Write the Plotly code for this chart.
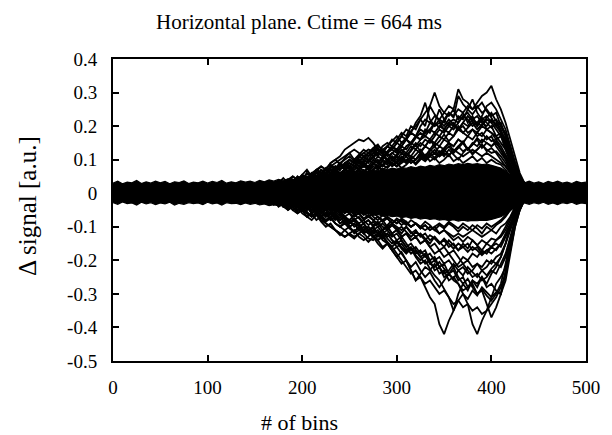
import plotly.graph_objects as go

# ---------------- data ----------------
# dense noise core envelope, every 5 bins from 0 to 500
core_bins = list(range(0, 501, 5))
core_upper = [
    0.030, 0.036, 0.028, 0.033, 0.031, 0.038, 0.029, 0.034, 0.030, 0.036,
    0.031, 0.035, 0.028, 0.034, 0.032, 0.037, 0.029, 0.033, 0.031, 0.036,
    0.030, 0.035, 0.032, 0.038, 0.030, 0.034, 0.031, 0.037, 0.033, 0.036,
    0.032, 0.038, 0.034, 0.040, 0.036, 0.041, 0.038, 0.043, 0.040, 0.046,
    0.043, 0.049, 0.046, 0.053, 0.050, 0.056, 0.053, 0.060, 0.057, 0.063,
    0.060, 0.066, 0.062, 0.068, 0.065, 0.070, 0.067, 0.073, 0.070, 0.075,
    0.072, 0.077, 0.074, 0.079, 0.076, 0.081, 0.078, 0.083, 0.080, 0.085,
    0.082, 0.087, 0.084, 0.088, 0.085, 0.089, 0.086, 0.088, 0.085, 0.087,
    0.083, 0.080, 0.075, 0.066, 0.055, 0.044, 0.036, 0.031, 0.036, 0.030,
    0.034, 0.029, 0.035, 0.031, 0.036, 0.030, 0.033, 0.029, 0.035, 0.031,
    0.033,
]
core_lower = [
    -0.028, -0.033, -0.026, -0.031, -0.029, -0.035, -0.027, -0.032, -0.028, -0.034,
    -0.029, -0.032, -0.027, -0.035, -0.030, -0.033, -0.028, -0.031, -0.029, -0.034,
    -0.027, -0.032, -0.029, -0.035, -0.028, -0.031, -0.030, -0.034, -0.029, -0.033,
    -0.030, -0.035, -0.032, -0.037, -0.034, -0.038, -0.036, -0.041, -0.039, -0.044,
    -0.041, -0.046, -0.044, -0.049, -0.047, -0.052, -0.050, -0.055, -0.053, -0.058,
    -0.056, -0.061, -0.058, -0.063, -0.061, -0.066, -0.063, -0.068, -0.066, -0.070,
    -0.068, -0.073, -0.070, -0.075, -0.072, -0.077, -0.074, -0.078, -0.076, -0.080,
    -0.078, -0.082, -0.079, -0.083, -0.080, -0.083, -0.081, -0.082, -0.080, -0.081,
    -0.078, -0.075, -0.070, -0.062, -0.051, -0.041, -0.033, -0.029, -0.033, -0.028,
    -0.032, -0.027, -0.033, -0.029, -0.034, -0.028, -0.031, -0.027, -0.033, -0.029,
    -0.031,
]

# individual signal traces, every 5 bins from 150 to 450
trace_bins = list(range(150, 451, 5))

T1 = [0.01, 0.02, 0.01, 0.03, 0.02, 0.03, 0.02, 0.04, 0.03, 0.05,
      0.04, 0.06, 0.05, 0.07, 0.06, 0.05, 0.08, 0.07, 0.09, 0.08,
      0.10, 0.09, 0.11, 0.10, 0.12, 0.11, 0.13, 0.12, 0.14, 0.13,
      0.15, 0.14, 0.16, 0.18, 0.17, 0.19, 0.18, 0.21, 0.20, 0.22,
      0.21, 0.24, 0.23, 0.25, 0.24, 0.26, 0.25, 0.27, 0.29, 0.30,
      0.32, 0.28, 0.25, 0.21, 0.16, 0.11, 0.06, 0.03, 0.02, 0.01, 0.0]
T2 = [0.0, 0.01, 0.0, 0.02, 0.01, 0.02, 0.01, 0.03, 0.02, 0.03,
      0.04, 0.03, 0.05, 0.04, 0.06, 0.05, 0.07, 0.06, 0.08, 0.07,
      0.09, 0.08, 0.10, 0.09, 0.11, 0.12, 0.11, 0.13, 0.14, 0.13,
      0.15, 0.17, 0.16, 0.18, 0.17, 0.20, 0.22, 0.21, 0.23, 0.22,
      0.24, 0.26, 0.25, 0.31, 0.28, 0.27, 0.25, 0.26, 0.24, 0.25,
      0.23, 0.24, 0.20, 0.17, 0.12, 0.08, 0.05, 0.03, 0.02, 0.01, 0.0]
T3 = [0.01, 0.0, 0.02, 0.01, 0.02, 0.03, 0.02, 0.03, 0.04, 0.03,
      0.05, 0.04, 0.06, 0.05, 0.07, 0.06, 0.08, 0.07, 0.09, 0.08,
      0.10, 0.09, 0.11, 0.12, 0.11, 0.13, 0.12, 0.14, 0.15, 0.14,
      0.16, 0.18, 0.17, 0.20, 0.19, 0.22, 0.24, 0.26, 0.30, 0.26,
      0.24, 0.23, 0.25, 0.22, 0.24, 0.21, 0.23, 0.20, 0.22, 0.19,
      0.20, 0.17, 0.18, 0.14, 0.10, 0.07, 0.04, 0.02, 0.01, 0.0, 0.0]
T4 = [0.0, 0.01, 0.0, 0.01, 0.02, 0.01, 0.03, 0.02, 0.03, 0.04,
      0.03, 0.05, 0.04, 0.06, 0.05, 0.07, 0.06, 0.08, 0.07, 0.09,
      0.08, 0.10, 0.09, 0.11, 0.10, 0.12, 0.13, 0.12, 0.14, 0.16,
      0.15, 0.17, 0.19, 0.18, 0.21, 0.23, 0.27, 0.22, 0.20, 0.21,
      0.19, 0.21, 0.20, 0.23, 0.22, 0.25, 0.28, 0.24, 0.22, 0.23,
      0.21, 0.19, 0.17, 0.15, 0.11, 0.07, 0.04, 0.02, 0.01, 0.0, 0.0]
T5 = [0.0, 0.01, 0.02, 0.01, 0.03, 0.02, 0.03, 0.04, 0.03, 0.05,
      0.04, 0.06, 0.05, 0.07, 0.08, 0.07, 0.09, 0.10, 0.11, 0.13,
      0.14, 0.15, 0.16, 0.155, 0.165, 0.15, 0.13, 0.12, 0.10, 0.09,
      0.08, 0.10, 0.09, 0.11, 0.10, 0.12, 0.11, 0.13, 0.12, 0.14,
      0.13, 0.15, 0.14, 0.16, 0.15, 0.17, 0.16, 0.18, 0.17, 0.19,
      0.18, 0.16, 0.17, 0.13, 0.10, 0.07, 0.04, 0.02, 0.01, 0.0, 0.0]
T6 = [0.01, 0.0, 0.01, 0.02, 0.01, 0.02, 0.03, 0.02, 0.04, 0.03,
      0.05, 0.04, 0.06, 0.05, 0.07, 0.06, 0.08, 0.09, 0.10, 0.11,
      0.12, 0.13, 0.12, 0.11, 0.12, 0.13, 0.14, 0.13, 0.11, 0.12,
      0.13, 0.12, 0.14, 0.15, 0.14, 0.16, 0.17, 0.16, 0.18, 0.17,
      0.19, 0.18, 0.20, 0.19, 0.21, 0.20, 0.22, 0.21, 0.20, 0.22,
      0.21, 0.22, 0.20, 0.18, 0.14, 0.09, 0.05, 0.03, 0.01, 0.0, 0.0]
T7 = [0.0, 0.01, 0.0, 0.01, 0.0, 0.02, 0.01, 0.02, 0.01, 0.03,
      0.02, 0.03, 0.04, 0.03, 0.05, 0.04, 0.06, 0.05, 0.06, 0.07,
      0.06, 0.08, 0.07, 0.09, 0.08, 0.10, 0.09, 0.11, 0.10, 0.12,
      0.11, 0.13, 0.12, 0.14, 0.13, 0.15, 0.14, 0.16, 0.15, 0.17,
      0.16, 0.18, 0.17, 0.19, 0.18, 0.17, 0.19, 0.18, 0.20, 0.19,
      0.18, 0.17, 0.15, 0.13, 0.09, 0.06, 0.03, 0.02, 0.01, 0.0, 0.0]
T8 = [0.01, 0.0, 0.0, 0.01, 0.02, 0.01, 0.0, 0.02, 0.01, 0.02,
      0.03, 0.02, 0.03, 0.04, 0.03, 0.05, 0.04, 0.05, 0.06, 0.05,
      0.07, 0.06, 0.07, 0.08, 0.07, 0.09, 0.08, 0.10, 0.09, 0.11,
      0.10, 0.12, 0.11, 0.13, 0.15, 0.14, 0.16, 0.15, 0.17, 0.19,
      0.18, 0.20, 0.19, 0.21, 0.23, 0.22, 0.20, 0.21, 0.23, 0.26,
      0.27, 0.25, 0.22, 0.19, 0.14, 0.09, 0.05, 0.03, 0.01, 0.0, 0.0]
T9 = [0.0, 0.0, 0.01, 0.0, 0.01, 0.0, 0.01, 0.02, 0.01, 0.02,
      0.01, 0.03, 0.02, 0.03, 0.02, 0.04, 0.03, 0.05, 0.04, 0.05,
      0.06, 0.05, 0.07, 0.06, 0.08, 0.07, 0.09, 0.08, 0.10, 0.09,
      0.11, 0.10, 0.12, 0.11, 0.13, 0.12, 0.14, 0.13, 0.15, 0.14,
      0.16, 0.15, 0.14, 0.16, 0.15, 0.13, 0.15, 0.14, 0.16, 0.15,
      0.14, 0.15, 0.13, 0.11, 0.08, 0.05, 0.03, 0.02, 0.01, 0.0, 0.0]
T10 = [0.0, 0.01, 0.0, 0.0, 0.01, 0.02, 0.01, 0.02, 0.03, 0.02,
       0.03, 0.04, 0.03, 0.05, 0.04, 0.06, 0.05, 0.07, 0.06, 0.07,
       0.08, 0.07, 0.09, 0.08, 0.10, 0.09, 0.11, 0.10, 0.12, 0.13,
       0.12, 0.14, 0.13, 0.15, 0.17, 0.16, 0.19, 0.18, 0.21, 0.25,
       0.22, 0.20, 0.21, 0.19, 0.20, 0.18, 0.19, 0.17, 0.18, 0.16,
       0.17, 0.14, 0.12, 0.10, 0.07, 0.05, 0.03, 0.02, 0.01, 0.0, 0.0]
M1 = [0.0, 0.01, 0.0, 0.01, 0.0, 0.01, 0.02, 0.01, 0.02, 0.01,
      0.02, 0.03, 0.02, 0.03, 0.04, 0.03, 0.04, 0.05, 0.04, 0.05,
      0.06, 0.05, 0.06, 0.07, 0.06, 0.07, 0.08, 0.07, 0.08, 0.09,
      0.08, 0.09, 0.10, 0.09, 0.10, 0.11, 0.10, 0.11, 0.12, 0.11,
      0.12, 0.11, 0.13, 0.12, 0.11, 0.12, 0.13, 0.12, 0.11, 0.12,
      0.11, 0.10, 0.09, 0.08, 0.06, 0.04, 0.02, 0.01, 0.0, 0.0, 0.0]
M2 = [0.01, 0.0, 0.01, 0.0, 0.02, 0.01, 0.0, 0.01, 0.02, 0.03,
      0.02, 0.04, 0.05, 0.04, 0.06, 0.07, 0.06, 0.08, 0.07, 0.09,
      0.10, 0.09, 0.08, 0.10, 0.09, 0.11, 0.12, 0.13, 0.12, 0.14,
      0.13, 0.15, 0.16, 0.15, 0.17, 0.16, 0.18, 0.19, 0.18, 0.20,
      0.19, 0.21, 0.22, 0.21, 0.23, 0.24, 0.22, 0.23, 0.21, 0.20,
      0.22, 0.20, 0.18, 0.16, 0.12, 0.08, 0.05, 0.02, 0.01, 0.0, 0.0]
N1 = [0.0, 0.015, 0.005, 0.02, 0.01, 0.03, 0.015, 0.025, 0.04, 0.02,
      0.035, 0.05, 0.03, 0.045, 0.06, 0.04, 0.055, 0.07, 0.05, 0.065,
      0.08, 0.06, 0.075, 0.09, 0.07, 0.085, 0.1, 0.08, 0.095, 0.11,
      0.09, 0.105, 0.12, 0.1, 0.115, 0.13, 0.11, 0.125, 0.14, 0.12,
      0.135, 0.15, 0.125, 0.14, 0.155, 0.13, 0.145, 0.16, 0.135, 0.15,
      0.14, 0.155, 0.13, 0.1, 0.07, 0.045, 0.025, 0.015, 0.005, 0.0, 0.0]
N2 = [0.01, 0.0, 0.02, 0.01, 0.025, 0.015, 0.03, 0.02, 0.04, 0.03,
      0.045, 0.035, 0.05, 0.065, 0.045, 0.06, 0.075, 0.055, 0.07, 0.085,
      0.07, 0.09, 0.1, 0.08, 0.095, 0.11, 0.09, 0.105, 0.12, 0.1,
      0.115, 0.13, 0.11, 0.125, 0.145, 0.125, 0.14, 0.16, 0.14, 0.155,
      0.175, 0.155, 0.17, 0.2, 0.18, 0.195, 0.21, 0.19, 0.205, 0.225,
      0.24, 0.215, 0.19, 0.15, 0.11, 0.07, 0.04, 0.02, 0.01, 0.0, 0.0]
N3 = [0.0, 0.01, -0.005, 0.01, 0.02, 0.005, 0.015, 0.025, 0.01, 0.02,
      0.03, 0.015, 0.025, 0.04, 0.03, 0.045, 0.035, 0.05, 0.04, 0.055,
      0.045, 0.06, 0.07, 0.055, 0.065, 0.08, 0.07, 0.085, 0.075, 0.09,
      0.08, 0.095, 0.11, 0.09, 0.1, 0.115, 0.1, 0.12, 0.105, 0.125,
      0.11, 0.13, 0.115, 0.1, 0.12, 0.135, 0.115, 0.13, 0.145, 0.125,
      0.135, 0.12, 0.1, 0.08, 0.06, 0.04, 0.02, 0.01, 0.005, 0.0, 0.0]
N4 = [0.0, 0.02, 0.01, 0.025, 0.015, 0.03, 0.045, 0.03, 0.05, 0.04,
      0.055, 0.07, 0.05, 0.065, 0.08, 0.07, 0.09, 0.1, 0.085, 0.105,
      0.12, 0.1, 0.115, 0.13, 0.12, 0.135, 0.145, 0.125, 0.14, 0.155,
      0.17, 0.15, 0.165, 0.185, 0.2, 0.22, 0.2, 0.26, 0.235, 0.215,
      0.2, 0.22, 0.205, 0.19, 0.21, 0.23, 0.215, 0.2, 0.225, 0.21,
      0.195, 0.21, 0.185, 0.16, 0.12, 0.08, 0.045, 0.02, 0.01, 0.0, 0.0]
N5 = [0.01, 0.0, 0.015, 0.005, 0.02, 0.01, 0.025, 0.04, 0.025, 0.035,
      0.05, 0.04, 0.055, 0.045, 0.06, 0.075, 0.06, 0.07, 0.085, 0.075,
      0.09, 0.08, 0.095, 0.11, 0.095, 0.105, 0.12, 0.11, 0.125, 0.14,
      0.125, 0.14, 0.16, 0.145, 0.165, 0.18, 0.17, 0.19, 0.21, 0.195,
      0.22, 0.24, 0.225, 0.29, 0.265, 0.25, 0.235, 0.255, 0.27, 0.245,
      0.225, 0.2, 0.21, 0.17, 0.13, 0.085, 0.05, 0.025, 0.01, 0.0, 0.0]
N11 = [0.0, 0.01, 0.02, 0.01, 0.025, 0.035, 0.025, 0.04, 0.05, 0.04,
       0.055, 0.045, 0.06, 0.07, 0.06, 0.075, 0.085, 0.075, 0.09, 0.1,
       0.11, 0.095, 0.105, 0.12, 0.13, 0.125, 0.135, 0.115, 0.095, 0.08,
       0.09, 0.075, 0.085, 0.1, 0.09, 0.105, 0.095, 0.11, 0.1, 0.115,
       0.13, 0.115, 0.125, 0.14, 0.125, 0.135, 0.12, 0.13, 0.145, 0.13,
       0.12, 0.125, 0.11, 0.09, 0.065, 0.04, 0.02, 0.01, 0.005, 0.0, 0.0]
F1 = [0.0, 0.005, 0.015, 0.005, 0.02, 0.01, 0.025, 0.015, 0.03, 0.02,
      0.035, 0.025, 0.04, 0.05, 0.035, 0.05, 0.06, 0.045, 0.06, 0.07,
      0.055, 0.07, 0.08, 0.065, 0.075, 0.09, 0.075, 0.085, 0.1, 0.085,
      0.095, 0.11, 0.09, 0.1, 0.085, 0.1, 0.115, 0.095, 0.105, 0.09,
      0.1, 0.115, 0.095, 0.105, 0.09, 0.1, 0.11, 0.095, 0.105, 0.09,
      0.1, 0.09, 0.085, 0.07, 0.05, 0.035, 0.02, 0.01, 0.005, 0.0, 0.0]
F2 = [0.005, 0.0, 0.01, 0.02, 0.01, 0.02, 0.03, 0.02, 0.035, 0.03,
      0.04, 0.03, 0.045, 0.035, 0.05, 0.06, 0.05, 0.065, 0.055, 0.07,
      0.065, 0.08, 0.07, 0.085, 0.075, 0.09, 0.08, 0.095, 0.085, 0.1,
      0.09, 0.105, 0.095, 0.11, 0.1, 0.12, 0.105, 0.115, 0.13, 0.11,
      0.125, 0.14, 0.12, 0.135, 0.15, 0.13, 0.145, 0.165, 0.15, 0.17,
      0.155, 0.16, 0.14, 0.115, 0.085, 0.055, 0.03, 0.015, 0.005, 0.0, 0.0]

B1 = [0.0, -0.01, 0.0, -0.02, -0.01, -0.02, -0.01, -0.03, -0.02, -0.03,
      -0.04, -0.03, -0.05, -0.04, -0.06, -0.05, -0.07, -0.06, -0.08, -0.07,
      -0.09, -0.08, -0.10, -0.09, -0.11, -0.10, -0.12, -0.13, -0.12, -0.14,
      -0.16, -0.18, -0.20, -0.23, -0.26, -0.25, -0.28, -0.31, -0.33, -0.39,
      -0.42, -0.38, -0.35, -0.30, -0.27, -0.29, -0.26, -0.28, -0.25, -0.27,
      -0.24, -0.22, -0.19, -0.15, -0.10, -0.06, -0.03, -0.02, -0.01, 0.0, 0.0]
B2 = [0.0, 0.0, -0.01, 0.0, -0.02, -0.01, -0.02, -0.03, -0.02, -0.04,
      -0.03, -0.05, -0.04, -0.06, -0.05, -0.07, -0.06, -0.08, -0.07, -0.09,
      -0.08, -0.10, -0.09, -0.11, -0.10, -0.12, -0.11, -0.13, -0.12, -0.14,
      -0.15, -0.14, -0.16, -0.18, -0.17, -0.19, -0.21, -0.20, -0.23, -0.22,
      -0.25, -0.24, -0.26, -0.27, -0.30, -0.33, -0.39, -0.42, -0.38, -0.35,
      -0.31, -0.27, -0.25, -0.22, -0.14, -0.08, -0.04, -0.02, -0.01, 0.0, 0.0]
B3 = [0.0, -0.01, 0.0, -0.01, -0.02, -0.01, -0.03, -0.02, -0.03, -0.04,
      -0.03, -0.05, -0.04, -0.06, -0.05, -0.07, -0.06, -0.07, -0.08, -0.07,
      -0.09, -0.08, -0.10, -0.09, -0.11, -0.10, -0.12, -0.11, -0.13, -0.12,
      -0.14, -0.13, -0.15, -0.17, -0.16, -0.18, -0.17, -0.20, -0.19, -0.22,
      -0.21, -0.24, -0.23, -0.26, -0.25, -0.28, -0.27, -0.30, -0.29, -0.33,
      -0.37, -0.34, -0.30, -0.24, -0.16, -0.09, -0.04, -0.02, -0.01, 0.0, 0.0]
B4 = [-0.01, 0.0, -0.01, -0.02, -0.01, -0.03, -0.02, -0.03, -0.04, -0.03,
      -0.05, -0.04, -0.06, -0.05, -0.07, -0.06, -0.08, -0.07, -0.09, -0.08,
      -0.10, -0.09, -0.11, -0.12, -0.11, -0.13, -0.14, -0.16, -0.15, -0.17,
      -0.19, -0.21, -0.20, -0.23, -0.26, -0.24, -0.22, -0.23, -0.21, -0.24,
      -0.23, -0.26, -0.25, -0.27, -0.29, -0.28, -0.26, -0.27, -0.25, -0.28,
      -0.27, -0.29, -0.30, -0.23, -0.15, -0.08, -0.04, -0.02, -0.01, 0.0, 0.0]
B5 = [0.0, -0.01, -0.02, -0.01, -0.02, -0.03, -0.02, -0.04, -0.03, -0.05,
      -0.04, -0.06, -0.07, -0.06, -0.08, -0.09, -0.10, -0.11, -0.12, -0.13,
      -0.12, -0.11, -0.13, -0.14, -0.13, -0.11, -0.12, -0.14, -0.15, -0.17,
      -0.16, -0.15, -0.17, -0.16, -0.18, -0.17, -0.19, -0.18, -0.20, -0.19,
      -0.21, -0.20, -0.22, -0.21, -0.19, -0.20, -0.18, -0.19, -0.17, -0.18,
      -0.16, -0.17, -0.15, -0.12, -0.09, -0.06, -0.03, -0.02, -0.01, 0.0, 0.0]
B6 = [-0.01, 0.0, -0.01, -0.02, -0.01, -0.02, -0.03, -0.02, -0.03, -0.04,
      -0.05, -0.04, -0.06, -0.05, -0.07, -0.08, -0.07, -0.09, -0.10, -0.11,
      -0.10, -0.12, -0.11, -0.10, -0.11, -0.13, -0.12, -0.11, -0.10, -0.12,
      -0.11, -0.13, -0.12, -0.14, -0.13, -0.15, -0.14, -0.16, -0.15, -0.17,
      -0.16, -0.18, -0.17, -0.19, -0.21, -0.20, -0.22, -0.21, -0.23, -0.22,
      -0.20, -0.21, -0.22, -0.19, -0.14, -0.09, -0.05, -0.02, -0.01, 0.0, 0.0]
B7 = [0.0, -0.01, 0.0, -0.01, 0.0, -0.02, -0.01, -0.02, -0.01, -0.03,
      -0.02, -0.03, -0.04, -0.03, -0.05, -0.04, -0.05, -0.06, -0.05, -0.07,
      -0.06, -0.08, -0.07, -0.09, -0.08, -0.10, -0.09, -0.11, -0.10, -0.12,
      -0.11, -0.13, -0.12, -0.14, -0.13, -0.15, -0.14, -0.16, -0.18, -0.17,
      -0.19, -0.18, -0.20, -0.22, -0.21, -0.23, -0.25, -0.24, -0.26, -0.25,
      -0.23, -0.24, -0.21, -0.18, -0.13, -0.08, -0.04, -0.02, -0.01, 0.0, 0.0]
B8 = [0.0, 0.0, -0.01, 0.0, -0.01, 0.0, -0.01, -0.02, -0.01, -0.02,
      -0.03, -0.02, -0.03, -0.04, -0.03, -0.04, -0.05, -0.04, -0.06, -0.05,
      -0.06, -0.07, -0.06, -0.08, -0.07, -0.08, -0.09, -0.08, -0.10, -0.09,
      -0.10, -0.11, -0.10, -0.12, -0.11, -0.13, -0.12, -0.14, -0.13, -0.15,
      -0.14, -0.16, -0.15, -0.17, -0.16, -0.15, -0.17, -0.16, -0.18, -0.17,
      -0.16, -0.15, -0.16, -0.13, -0.10, -0.06, -0.03, -0.02, -0.01, 0.0, 0.0]
B9 = [-0.01, 0.0, -0.01, -0.02, -0.03, -0.02, -0.04, -0.03, -0.05, -0.04,
      -0.06, -0.07, -0.06, -0.05, -0.07, -0.06, -0.08, -0.07, -0.09, -0.08,
      -0.10, -0.09, -0.11, -0.10, -0.12, -0.11, -0.10, -0.12, -0.11, -0.13,
      -0.12, -0.14, -0.16, -0.15, -0.17, -0.19, -0.18, -0.21, -0.20, -0.22,
      -0.24, -0.23, -0.21, -0.23, -0.22, -0.24, -0.23, -0.21, -0.22, -0.20,
      -0.21, -0.19, -0.18, -0.15, -0.11, -0.07, -0.04, -0.02, -0.01, 0.0, 0.0]
M3 = [0.0, -0.01, 0.0, 0.0, -0.01, -0.02, -0.01, 0.0, -0.01, -0.02,
      -0.01, -0.02, -0.03, -0.02, -0.03, -0.04, -0.03, -0.04, -0.05, -0.04,
      -0.05, -0.06, -0.05, -0.06, -0.07, -0.06, -0.07, -0.08, -0.07, -0.08,
      -0.09, -0.08, -0.09, -0.10, -0.09, -0.10, -0.11, -0.10, -0.11, -0.12,
      -0.11, -0.12, -0.13, -0.12, -0.13, -0.12, -0.11, -0.12, -0.13, -0.12,
      -0.11, -0.12, -0.10, -0.09, -0.07, -0.04, -0.02, -0.01, 0.0, 0.0, 0.0]
M4 = [0.0, -0.01, -0.02, -0.01, -0.03, -0.02, -0.04, -0.03, -0.05, -0.06,
      -0.05, -0.07, -0.06, -0.08, -0.07, -0.09, -0.10, -0.11, -0.12, -0.13,
      -0.12, -0.13, -0.12, -0.11, -0.12, -0.13, -0.14, -0.13, -0.15, -0.16,
      -0.18, -0.20, -0.22, -0.24, -0.23, -0.25, -0.27, -0.26, -0.28, -0.30,
      -0.29, -0.31, -0.33, -0.32, -0.34, -0.33, -0.35, -0.34, -0.36, -0.35,
      -0.33, -0.31, -0.28, -0.24, -0.17, -0.10, -0.05, -0.02, -0.01, 0.0, 0.0]
N6 = [0.0, -0.015, -0.005, -0.02, -0.01, -0.025, -0.015, -0.03, -0.02, -0.035,
      -0.025, -0.04, -0.05, -0.035, -0.045, -0.06, -0.05, -0.065, -0.055, -0.07,
      -0.08, -0.065, -0.075, -0.09, -0.08, -0.095, -0.085, -0.1, -0.11, -0.095,
      -0.105, -0.12, -0.1, -0.115, -0.13, -0.12, -0.135, -0.15, -0.13, -0.145,
      -0.16, -0.14, -0.155, -0.17, -0.15, -0.165, -0.14, -0.155, -0.17, -0.15,
      -0.16, -0.14, -0.13, -0.11, -0.08, -0.05, -0.03, -0.015, -0.005, 0.0, 0.0]
N7 = [-0.01, 0.0, -0.02, -0.01, -0.025, -0.015, -0.03, -0.045, -0.03, -0.05,
      -0.04, -0.055, -0.07, -0.055, -0.065, -0.08, -0.07, -0.09, -0.1, -0.085,
      -0.1, -0.115, -0.1, -0.12, -0.11, -0.125, -0.14, -0.125, -0.145, -0.16,
      -0.145, -0.165, -0.18, -0.165, -0.185, -0.2, -0.185, -0.21, -0.22, -0.205,
      -0.225, -0.24, -0.22, -0.25, -0.27, -0.255, -0.28, -0.3, -0.285, -0.305,
      -0.32, -0.3, -0.27, -0.21, -0.14, -0.08, -0.04, -0.02, -0.01, 0.0, 0.0]
N8 = [0.0, -0.02, -0.01, -0.03, -0.02, -0.04, -0.03, -0.05, -0.04, -0.06,
      -0.05, -0.07, -0.08, -0.065, -0.085, -0.1, -0.09, -0.11, -0.125, -0.11,
      -0.125, -0.135, -0.12, -0.13, -0.145, -0.13, -0.15, -0.165, -0.15, -0.17,
      -0.19, -0.175, -0.2, -0.22, -0.205, -0.23, -0.25, -0.235, -0.26, -0.28,
      -0.26, -0.24, -0.255, -0.23, -0.245, -0.22, -0.235, -0.25, -0.23, -0.245,
      -0.225, -0.21, -0.19, -0.15, -0.1, -0.06, -0.03, -0.015, -0.005, 0.0, 0.0]
N9 = [0.0, -0.005, 0.005, -0.01, 0.0, -0.015, -0.005, -0.02, -0.01, -0.025,
      -0.015, -0.03, -0.02, -0.035, -0.025, -0.04, -0.05, -0.035, -0.045, -0.055,
      -0.045, -0.06, -0.05, -0.065, -0.055, -0.07, -0.08, -0.065, -0.075, -0.09,
      -0.075, -0.085, -0.095, -0.08, -0.09, -0.1, -0.085, -0.095, -0.11, -0.095,
      -0.105, -0.09, -0.1, -0.115, -0.1, -0.11, -0.095, -0.105, -0.12, -0.1,
      -0.11, -0.095, -0.085, -0.07, -0.05, -0.035, -0.02, -0.01, 0.0, 0.0, 0.0]
N10 = [-0.01, 0.0, -0.015, -0.005, -0.02, -0.03, -0.02, -0.035, -0.025, -0.04,
       -0.05, -0.04, -0.055, -0.045, -0.06, -0.07, -0.06, -0.075, -0.065, -0.08,
       -0.09, -0.08, -0.095, -0.11, -0.1, -0.115, -0.13, -0.12, -0.135, -0.15,
       -0.14, -0.16, -0.175, -0.165, -0.19, -0.21, -0.2, -0.225, -0.245, -0.26,
       -0.285, -0.31, -0.35, -0.32, -0.3, -0.315, -0.29, -0.305, -0.28, -0.295,
       -0.31, -0.295, -0.3, -0.26, -0.18, -0.1, -0.05, -0.02, -0.01, 0.0, 0.0]
N12 = [-0.005, -0.02, -0.01, -0.025, -0.035, -0.025, -0.04, -0.05, -0.04, -0.055,
       -0.045, -0.06, -0.07, -0.06, -0.075, -0.085, -0.075, -0.09, -0.1, -0.09,
       -0.105, -0.115, -0.1, -0.12, -0.135, -0.14, -0.125, -0.11, -0.095, -0.08,
       -0.09, -0.075, -0.085, -0.1, -0.09, -0.105, -0.095, -0.11, -0.1, -0.12,
       -0.11, -0.125, -0.14, -0.13, -0.145, -0.13, -0.14, -0.155, -0.14, -0.15,
       -0.135, -0.14, -0.125, -0.1, -0.07, -0.045, -0.025, -0.01, -0.005, 0.0, 0.0]
F3 = [0.0, -0.01, 0.0, -0.015, -0.005, -0.02, -0.01, -0.025, -0.015, -0.03,
      -0.02, -0.035, -0.03, -0.04, -0.035, -0.05, -0.04, -0.055, -0.045, -0.06,
      -0.05, -0.065, -0.06, -0.075, -0.065, -0.08, -0.07, -0.085, -0.075, -0.09,
      -0.08, -0.095, -0.085, -0.1, -0.09, -0.105, -0.095, -0.11, -0.1, -0.09,
      -0.1, -0.085, -0.095, -0.105, -0.09, -0.1, -0.11, -0.095, -0.105, -0.09,
      -0.1, -0.09, -0.08, -0.065, -0.05, -0.035, -0.02, -0.01, -0.005, 0.0, 0.0]
F4 = [-0.005, 0.0, -0.01, -0.02, -0.01, -0.025, -0.02, -0.03, -0.025, -0.035,
      -0.045, -0.035, -0.05, -0.04, -0.055, -0.065, -0.055, -0.07, -0.06, -0.075,
      -0.085, -0.075, -0.09, -0.08, -0.095, -0.085, -0.1, -0.09, -0.105, -0.095,
      -0.11, -0.1, -0.115, -0.13, -0.115, -0.125, -0.14, -0.125, -0.135, -0.15,
      -0.135, -0.15, -0.165, -0.15, -0.16, -0.175, -0.16, -0.17, -0.185, -0.17,
      -0.18, -0.165, -0.15, -0.125, -0.09, -0.06, -0.035, -0.015, -0.005, 0.0, 0.0]

signal_traces = [T1, T2, T3, T4, T5, T6, T7, T8, T9, T10, M1, M2,
                 N1, N2, N3, N4, N5, N11, F1, F2,
                 B1, B2, B3, B4, B5, B6, B7, B8, B9, M3, M4,
                 N6, N7, N8, N9, N10, N12, F3, F4]

x_ticks = [0, 100, 200, 300, 400, 500]
y_ticks = [0.4, 0.3, 0.2, 0.1, 0, -0.1, -0.2, -0.3, -0.4, -0.5]
y_tick_text = ["0.4", "0.3", "0.2", "0.1", "0", "-0.1", "-0.2", "-0.3", "-0.4", "-0.5"]

TITLE = "Horizontal plane. Ctime = 664 ms"
XLABEL = "# of bins"
YLABEL = "\u0394 signal [a.u.]"

# ---------------- figure ----------------
# The page body has an 8 px margin, so the figure is drawn 8 px smaller
# and the plot margins are reduced by 8 px to keep the reference layout.
FONT = "Liberation Serif, Times New Roman, serif"
fig = go.Figure()

fig.add_trace(go.Scatter(x=core_bins, y=core_lower, mode="lines",
                         line=dict(color="black", width=1.2), hoverinfo="skip",
                         showlegend=False))
fig.add_trace(go.Scatter(x=core_bins, y=core_upper, mode="lines",
                         line=dict(color="black", width=1.2), fill="tonexty",
                         fillcolor="black", hoverinfo="skip", showlegend=False))

for tr in signal_traces:
    fig.add_trace(go.Scatter(x=trace_bins, y=tr, mode="lines",
                             line=dict(color="black", width=1.8),
                             hoverinfo="skip", showlegend=False))

axis_common = dict(
    showgrid=False, zeroline=False, showline=True, linecolor="black",
    linewidth=2, mirror="allticks", ticks="inside", ticklen=6, tickwidth=2,
    tickcolor="black", tickfont=dict(family=FONT, size=19, color="black"),
)

fig.update_xaxes(range=[0, 500], tickvals=x_ticks, ticklabelstandoff=8,
                 **axis_common)
fig.update_yaxes(range=[-0.5, 0.4], tickvals=y_ticks, ticktext=y_tick_text,
                 ticklabelstandoff=10, **axis_common)

PL, PT, PW, PH = 105, 51, 478, 302   # plot area inside the figure
fig.update_layout(
    width=604, height=427,
    margin=dict(l=PL, r=604 - PL - PW, t=PT, b=427 - PT - PH),
    paper_bgcolor="white", plot_bgcolor="white",
    showlegend=False,
    annotations=[
        dict(text=TITLE, xref="paper", yref="paper",
             x=(293 - PL) / PW, y=1 + (PT - 14) / PH,
             xanchor="center", yanchor="middle", showarrow=False,
             font=dict(family=FONT, size=21, color="black")),
        dict(text=XLABEL, xref="paper", yref="paper",
             x=(293 - PL) / PW, y=-(414 - PT - PH) / PH,
             xanchor="center", yanchor="middle", showarrow=False,
             font=dict(family=FONT, size=22, color="black")),
        dict(text=YLABEL, xref="paper", yref="paper",
             x=-(PL - 18) / PW, y=(PT + PH - 198) / PH, textangle=-90,
             xanchor="center", yanchor="middle", showarrow=False,
             font=dict(family=FONT, size=25, color="black")),
    ],
)

fig.write_html("out.html")
